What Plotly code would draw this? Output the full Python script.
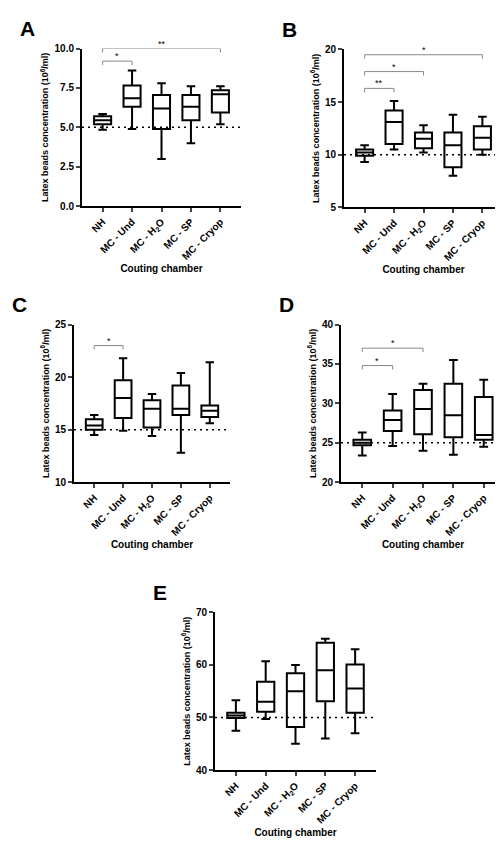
import plotly.graph_objects as go

categories = ["NH", "MC - Und", "MC - H<sub>2</sub>O", "MC - SP", "MC - Cryop"]

# box stats per panel: lower whisker, q1, median, q3, upper whisker
A_low = [4.85, 4.9, 3.0, 4.0, 5.2]
A_q1 = [5.2, 6.3, 4.9, 5.45, 5.95]
A_med = [5.45, 6.85, 6.2, 6.3, 7.1]
A_q3 = [5.7, 7.65, 7.05, 7.05, 7.35]
A_high = [5.85, 8.6, 7.8, 7.6, 7.6]

B_low = [9.3, 10.5, 10.2, 8.0, 10.0]
B_q1 = [9.9, 11.0, 10.6, 8.8, 10.5]
B_med = [10.2, 13.1, 11.5, 10.9, 11.6]
B_q3 = [10.5, 14.2, 12.1, 12.1, 12.7]
B_high = [10.9, 15.1, 12.8, 13.8, 13.6]

C_low = [14.5, 14.9, 14.4, 12.8, 15.6]
C_q1 = [15.0, 16.1, 15.2, 16.4, 16.2]
C_med = [15.4, 18.0, 17.0, 17.0, 16.8]
C_q3 = [16.0, 19.7, 17.8, 19.2, 17.3]
C_high = [16.4, 21.8, 18.4, 20.4, 21.4]

D_low = [23.4, 24.6, 24.0, 23.5, 24.5]
D_q1 = [24.7, 26.5, 26.1, 25.7, 25.4]
D_med = [25.0, 27.9, 29.3, 28.5, 26.0]
D_q3 = [25.4, 29.1, 31.7, 32.5, 30.8]
D_high = [26.3, 31.2, 32.5, 35.5, 33.0]

E_low = [47.5, 49.7, 45.0, 46.0, 47.0]
E_q1 = [49.9, 51.1, 48.2, 53.1, 50.9]
E_med = [50.4, 53.0, 55.0, 59.0, 55.5]
E_q3 = [50.9, 56.8, 58.4, 64.2, 60.1]
E_high = [53.3, 60.7, 60.0, 65.0, 63.0]

ref_lines = [5, 10, 15, 25, 50]
y_ranges = [(0, 10), (5, 20), (10, 25), (20, 40), (40, 70)]
y_dticks = [2.5, 5, 5, 5, 10]
tick_fmt = [".1f", "d", "d", "d", "d"]
letters = ["A", "B", "C", "D", "E"]
# significance brackets: (from idx, to idx, y value, label)
brackets = [
    [(0, 1, 9.2, "*"), (0, 4, 10.0, "**")],
    [(0, 1, 16.3, "**"), (0, 2, 17.9, "*"), (0, 4, 19.5, "*")],
    [(0, 1, 23.0, "*")],
    [(0, 1, 34.8, "*"), (0, 2, 37.0, "*")],
    [],
]

panels = [
    (A_low, A_q1, A_med, A_q3, A_high),
    (B_low, B_q1, B_med, B_q3, B_high),
    (C_low, C_q1, C_med, C_q3, C_high),
    (D_low, D_q1, D_med, D_q3, D_high),
    (E_low, E_q1, E_med, E_q3, E_high),
]

W, H = 503, 842
boxes_px = [(74, 233, 35, 195), (336, 495, 36, 196), (66, 222, 315, 475),
            (333, 497, 315, 475), (207, 368, 607, 767)]

fig = go.Figure()
FONT = "Liberation Sans, Arial, sans-serif"
for i, (stats, (x0, x1, yt, yb)) in enumerate(zip(panels, boxes_px)):
    low, q1, med, q3, high = stats
    n = "" if i == 0 else str(i + 1)
    fig.add_trace(go.Box(
        x=list(range(5)), q1=q1, median=med, q3=q3, lowerfence=low, upperfence=high,
        fillcolor="rgba(0,0,0,0)", line=dict(color="black", width=2),
        width=0.58, whiskerwidth=0.5, boxpoints=False, hoverinfo="skip",
        xaxis="x" + n, yaxis="y" + n, showlegend=False))
    fig.layout["xaxis" + n] = dict(
        domain=[x0 / W, x1 / W], anchor="y" + n, range=[-0.7, 4.7],
        tickvals=list(range(5)), ticktext=categories, tickangle=-45,
        showline=True, linewidth=2, linecolor="black", ticks="outside",
        ticklen=4, tickwidth=2, showgrid=False, zeroline=False,
        tickfont=dict(size=10, family=FONT, color="black", weight="bold"),
        title=dict(text="<b>Couting chamber</b>", font=dict(size=10, family=FONT, color="black"), standoff=4))
    r = y_ranges[i]
    fig.layout["yaxis" + n] = dict(
        domain=[1 - yb / H, 1 - yt / H], anchor="x" + n, range=list(r),
        dtick=y_dticks[i], tick0=r[0], tickformat=tick_fmt[i],
        showline=True, linewidth=2, linecolor="black", ticks="outside",
        ticklen=4, tickwidth=2, showgrid=False, zeroline=False,
        tickfont=dict(size=10, family=FONT, color="black", weight="bold"),
        title=dict(text="<b>Latex beads concentration (10<sup>6</sup>/ml)</b>",
                   font=dict(size=9, family=FONT, color="black"), standoff=4))
    xr, yr = "x" + n, "y" + n
    fig.add_shape(type="line", xref=xr, yref=yr, x0=-0.7, x1=4.7, y0=ref_lines[i], y1=ref_lines[i],
                  line=dict(color="black", width=1.5, dash="2px,4px"))
    span = r[1] - r[0]
    for (a, b, yv, lab) in brackets[i]:
        d = span * 0.025
        fig.add_shape(type="path", xref=xr, yref=yr,
                      path=f"M {a},{yv-d} L {a},{yv} L {b},{yv} L {b},{yv-d}",
                      line=dict(color="#888888", width=1))
        fig.add_annotation(x=(a + b) / 2, y=yv, xref=xr, yref=yr, text=lab, showarrow=False,
                           yshift=5, font=dict(size=9, family=FONT, color="black"))
    fig.add_annotation(x=(x0 - 64) / W, y=1 - (yt - 20) / H, xref="paper", yref="paper",
                       text=f"<b>{letters[i]}</b>", showarrow=False, xanchor="left", yanchor="middle",
                       font=dict(size=21, family=FONT, color="black"))

fig.update_layout(width=W, height=H, margin=dict(l=0, r=0, t=0, b=0),
                  plot_bgcolor="white", paper_bgcolor="white")
fig.write_html("out.html")
